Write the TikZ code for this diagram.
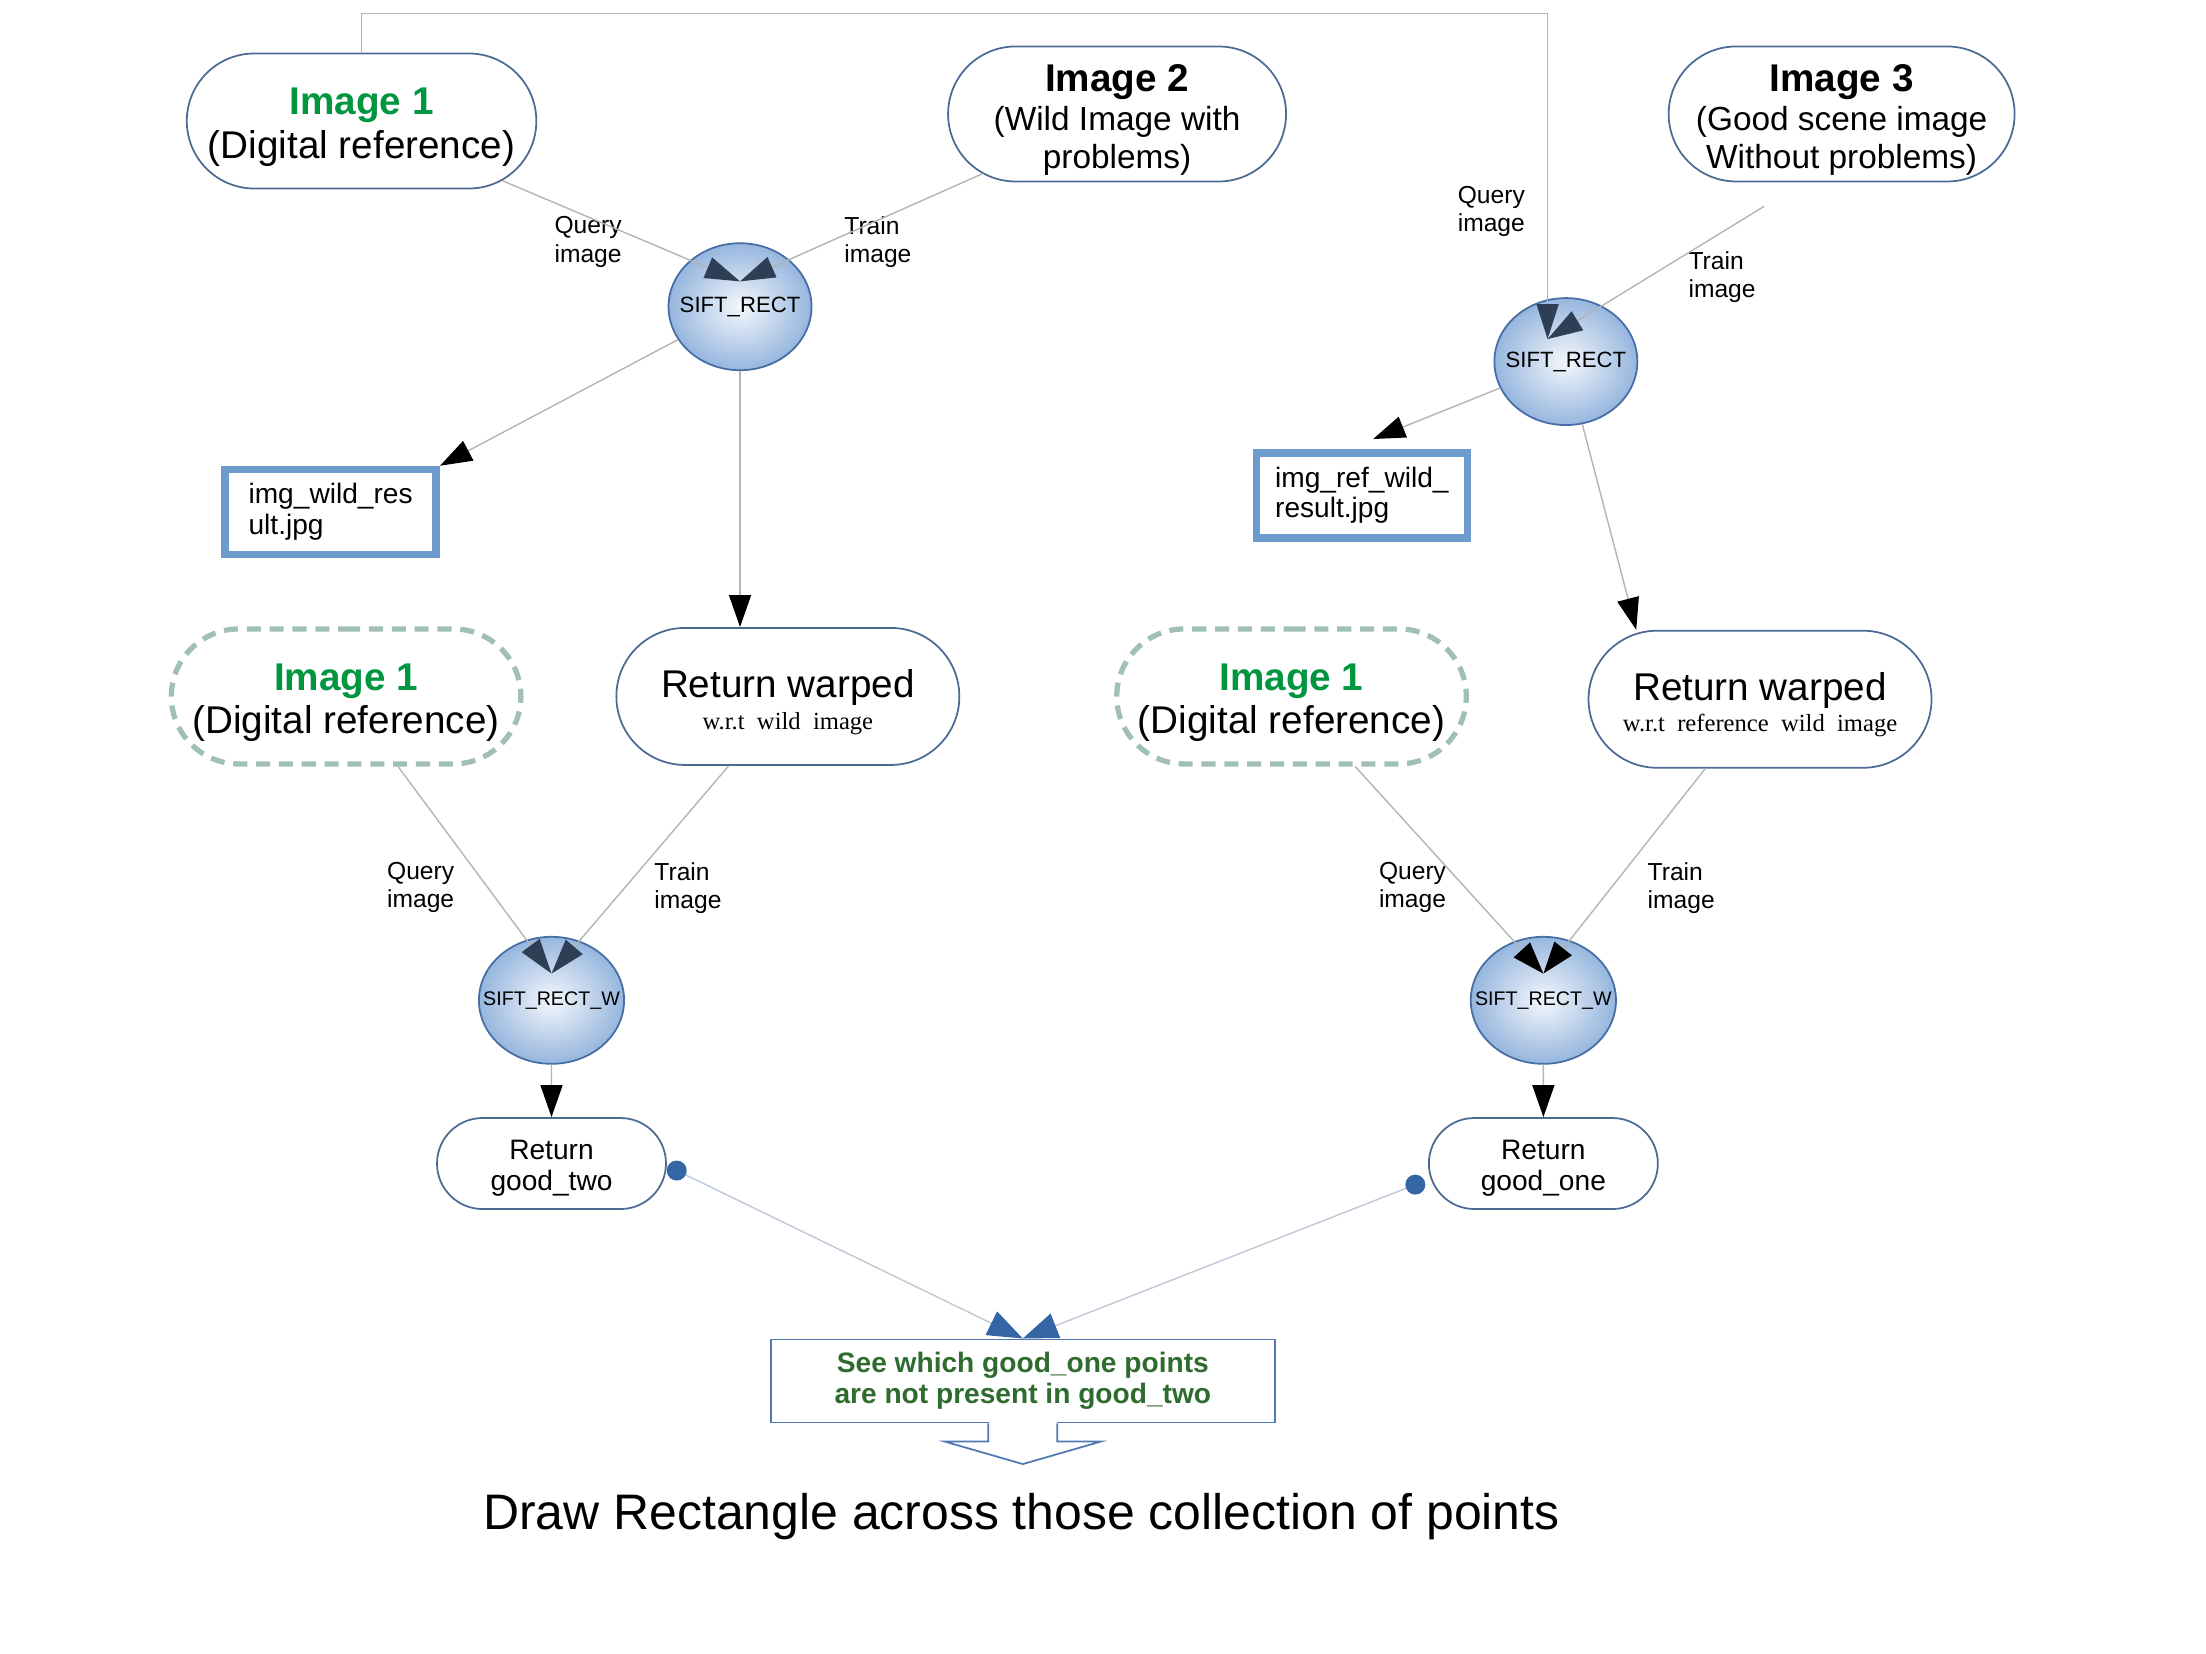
\documentclass[tikz,border=0pt]{standalone}
\usepackage{fontspec}
\setmainfont{Liberation Sans}
\newfontfamily\wrtfont{Liberation Serif}
\usetikzlibrary{shapes.misc,shapes.geometric,arrows.meta,calc,positioning}

\definecolor{imggreen}{RGB}{0,150,64}
\definecolor{chkgreen}{RGB}{46,107,46}
\definecolor{edgeblue}{RGB}{77,106,149}
\definecolor{dashgreen}{RGB}{160,192,180}
\definecolor{resblue}{RGB}{110,155,205}
\definecolor{siftout}{RGB}{150,182,222}
\definecolor{siftin}{RGB}{244,247,252}
\definecolor{siftedge}{RGB}{70,110,165}
\definecolor{tipslate}{RGB}{45,62,85}
\definecolor{wiregray}{RGB}{180,180,180}
\definecolor{wireblue}{RGB}{190,200,215}
\definecolor{dotblue}{RGB}{52,101,164}
\definecolor{chkedge}{RGB}{80,120,180}

\newcommand{\toppad}[1]{\rule{0pt}{#1}}

\tikzset{
  imgnode/.style={rounded rectangle, draw=edgeblue, line width=0.5pt,
    minimum width=3.45cm, minimum height=1.35cm, align=center, inner sep=1pt,
    font=\fontsize{11}{12.4}\selectfont},
  dashnode/.style={imgnode, draw=dashgreen, line width=1.5pt, dash pattern=on 4pt off 2.5pt},
  warpnode/.style={imgnode, minimum width=3.5cm, minimum height=1.37cm},
  retnode/.style={rounded rectangle, draw=edgeblue, line width=0.5pt,
    minimum width=2.36cm, minimum height=0.91cm, align=center, inner sep=1pt,
    font=\fontsize{8}{8.8}\selectfont},
  sift/.style={ellipse, draw=siftedge, line width=0.5pt, inner color=siftin,
    outer color=siftout, minimum width=1.43cm, minimum height=1.27cm,
    inner ysep=0pt, inner xsep=-0.1cm, font=\fontsize{6.3}{7}\selectfont},
  siftw/.style={sift, inner xsep=-0.17cm, font=\fontsize{5.6}{6}\selectfont},
  resbox/.style={rectangle, draw=resblue, line width=2.2pt, minimum width=2.11cm,
    minimum height=0.85cm, align=left, font=\fontsize{8}{8.8}\selectfont},
  lbl/.style={align=left, inner sep=0pt, font=\fontsize{7}{8}\selectfont},
  wire/.style={draw=wiregray, line width=0.4pt},
  slatetip/.style={wire, -{Triangle[length=0.35cm,width=0.22cm,color=tipslate]}},
  blacktip/.style={wire, -{Triangle[length=0.32cm,width=0.22cm,color=black]}},
  bluetip/.style={draw=wireblue, line width=0.4pt, -{Triangle[length=0.35cm,width=0.26cm,color=dotblue]}}
}

\begin{document}
\begin{tikzpicture}[x=0.014069cm, y=-0.014069cm]
\useasboundingbox (0,0) rectangle (1568,1175);

% input images
\node[imgnode] (img1) at (257,86) {\toppad{11.2pt}\textcolor{imggreen}{\bfseries Image 1}\\(Digital reference)};
\node[imgnode, font=\fontsize{9.5}{10.9}\selectfont] (img2) at (794,81)
  {{\fontsize{11}{12.4}\selectfont\toppad{11.2pt}\bfseries Image 2}\\(Wild Image with\\problems)};
\node[imgnode, inner xsep=-3.5pt, font=\fontsize{9.5}{10.9}\selectfont] (img3) at (1309,81)
  {{\fontsize{11}{12.4}\selectfont\toppad{11.2pt}\bfseries Image 3}\\(Good scene image\\Without problems)};

% matchers
\node[sift] (s1) at (526,218) {SIFT\_RECT};
\node[sift] (s2) at (1113,257) {SIFT\_RECT};
\node[siftw] (s3) at (392,711) {SIFT\_RECT\_W};
\node[siftw] (s4) at (1097,711) {SIFT\_RECT\_W};

% result files
\node[resbox] (res1) at (235,364) {img\_wild\_res\\ult.jpg};
\node[resbox] (res2) at (968,352) {img\_ref\_wild\_\\result.jpg};

% second row
\node[dashnode] (dimg1) at (246,495) {\toppad{11.2pt}\textcolor{imggreen}{\bfseries Image 1}\\(Digital reference)};
\node[dashnode] (dimg2) at (918,495) {\toppad{11.2pt}\textcolor{imggreen}{\bfseries Image 1}\\(Digital reference)};
\node[warpnode] (warp1) at (560,495) {\toppad{11.2pt}Return warped\\[-3.5pt]{\wrtfont\fontsize{7}{8}\selectfont w.r.t\ \ wild\ \ image}};
\node[warpnode] (warp2) at (1251,497) {\toppad{11.2pt}Return warped\\[-3.5pt]{\wrtfont\fontsize{7}{8}\selectfont w.r.t\ \ reference\ \ wild\ \ image}};

\node[retnode] (gtwo) at (392,827) {\toppad{8.2pt}Return\\good\_two};
\node[retnode] (gone) at (1097,827) {\toppad{8.2pt}Return\\good\_one};

\node[rectangle, draw=chkedge, line width=0.5pt, minimum width=5.04cm, minimum height=0.83cm,
  align=center, text=chkgreen, font=\fontsize{8}{8.8}\selectfont\bfseries] (chk) at (727,981.5)
  {See which good\_one points\\are not present in good\_two};
\node[font=\fontsize{14.2}{16}\selectfont] (fin) at (726,1078) {Draw Rectangle across those collection of points};

% edge labels
\node[lbl] (q1) at (418,172) {Query\\image};
\node[lbl] (t1) at (624,172) {Train\\image};
\node[lbl] (q2) at (1060,150) {Query\\image};
\node[lbl] (t2) at (1224,197) {Train\\image};
\node[lbl] (q3) at (299,631) {Query\\image};
\node[lbl] (t3) at (489,631) {Train\\image};
\node[lbl] (q4) at (1004,631) {Query\\image};
\node[lbl] (t4) at (1195,631) {Train\\image};

% tip points
\coordinate (s1tip) at ($(s1.center)+(0,-18)$);
\coordinate (s2tip) at ($(s2.center)+(-13,-16)$);
\coordinate (s3tip) at ($(s3.center)+(0,-19)$);
\coordinate (s4tip) at ($(s4.center)+(0,-19)$);
\coordinate (img3out) at ($(img3.south)+(-55,17)$);
\coordinate (r2tip) at ($(res2.north)+(8,-7)$);
\coordinate (w2tip) at ($(warp2.north)+(-88,0)$);
\coordinate (dotL) at ($(gtwo.east)+(7,5)$);
\coordinate (dotR) at ($(gone.west)+(-9,15)$);

% connectors
\draw[slatetip] (img1) -- (s1tip);
\draw[slatetip] (img2) -- (s1tip);
\draw[blacktip] (s1) -- (res1.north east);
\draw[blacktip] (s1.south) -- (s1.south |- warp1.north);
\draw[slatetip] (img1.north) -- ++(0,-28) -| (s2tip);
\draw[slatetip] (img3out) -- (s2tip);
\draw[blacktip] (s2) -- (r2tip);
\draw[blacktip] (s2) -- (w2tip);
\draw[slatetip] (dimg1) -- (s3tip);
\draw[slatetip] (warp1) -- (s3tip);
\draw[blacktip] (s3) -- (gtwo);
\draw[blacktip] (dimg2) -- (s4tip);
\draw[blacktip] (warp2) -- (s4tip);
\draw[blacktip] (s4) -- (gone);
\draw[bluetip] (dotL) -- (chk.north);
\draw[bluetip] (dotR) -- (chk.north);
\fill[dotblue] (dotL) circle[radius=0.1cm];
\fill[dotblue] (dotR) circle[radius=0.1cm];

% arrow under the check box
\draw[white, line width=1pt] ($(chk.south)+(-24,0)$) -- ($(chk.south)+(24,0)$);
\draw[chkedge, line width=0.5pt] ($(chk.south)+(-24.5,0)$) -- ++(0,13) -- ++(-31,0)
  -- ($(chk.south)+(0,29)$) -- ($(chk.south)+(55.5,13)$) -- ++(-31,0) -- ++(0,-13);
\end{tikzpicture}
\end{document}
